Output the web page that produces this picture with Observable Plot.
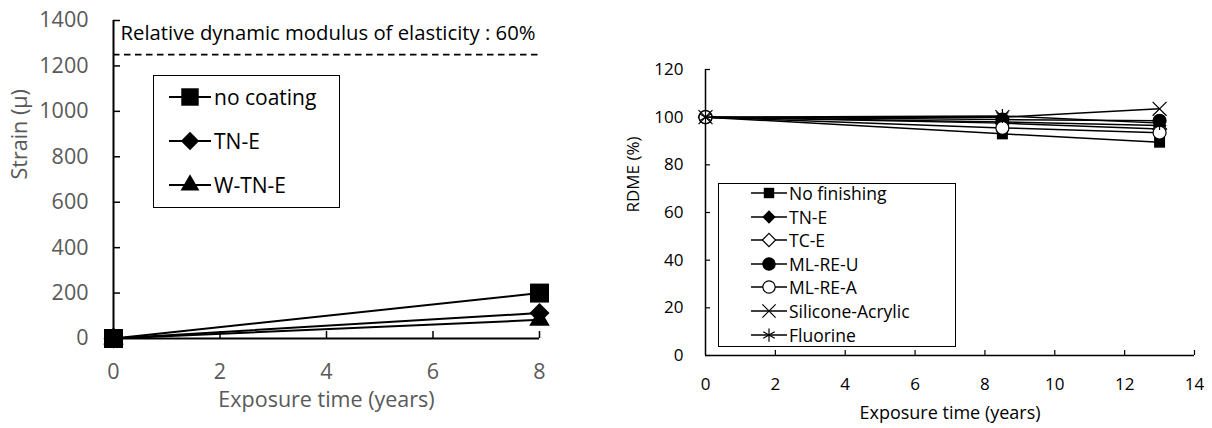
<!DOCTYPE html>
<html><head><meta charset="utf-8">
<script src="https://cdn.jsdelivr.net/npm/d3@7"></script>
<script src="https://cdn.jsdelivr.net/npm/@observablehq/plot@0.6"></script>
<style>
body{margin:0;background:#fff;}
#wrap{position:relative;width:1212px;height:428px;overflow:hidden;font-family:"Open Sans",Lato,sans-serif;}
.panel{position:absolute;top:0;}
.legend{position:absolute;border:1.5px solid #000;background:#fff;box-sizing:border-box;}
.item{position:absolute;display:flex;align-items:center;white-space:nowrap;color:#000;}
.item svg{display:block;overflow:visible;}
</style></head><body><div id="wrap"></div>
<script>
// ---------- Left chart data (strain) ----------
const strainYears = [0, 8];
const strainSeries = ["no coating", "TN-E", "W-TN-E"];
const strainNoCoating = [0, 200];
const strainTNE = [0, 112];
const strainWTNE = [0, 82];
const strainLimit = 1250;
const strainLimitLabel = "Relative dynamic modulus of elasticity : 60%";
const strainXTicks = [0, 2, 4, 6, 8];
const strainYTicks = [0, 200, 400, 600, 800, 1000, 1200, 1400];
const strainXTitle = "Exposure time (years)";
const strainYTitle = "Strain (μ)";

// ---------- Right chart data (RDME) ----------
const rdmeYears = [0, 8.5, 13];
const rdmeSeries = ["No finishing", "TN-E", "TC-E", "ML-RE-U", "ML-RE-A", "Silicone-Acrylic", "Fluorine"];
const rdmeNoFinishing = [100, 93, 89.5];
const rdmeTNE = [100, 98, 96.5];
const rdmeTCE = [100, 97.5, 95];
const rdmeMLREU = [100, 99, 98.5];
const rdmeMLREA = [100, 95.5, 93.5];
const rdmeSiliconeAcrylic = [100, 100, 103.5];
const rdmeFluorine = [100, 100.5, 97.5];
const rdmeXTicks = [0, 2, 4, 6, 8, 10, 12, 14];
const rdmeYTicks = [0, 20, 40, 60, 80, 100, 120];
const rdmeXTitle = "Exposure time (years)";
const rdmeYTitle = "RDME (%)";

// ---------- styles ----------
const FONT = '"Open Sans", Lato, sans-serif';
const GRAY = "#595959";
const fmt = d => String(d);
const symMap = {square: d3.symbolSquare, diamond2: d3.symbolDiamond2, triangle: d3.symbolTriangle,
  circle: d3.symbolCircle, times: d3.symbolTimes, asterisk: d3.symbolAsterisk};

const strainValues = [strainNoCoating, strainTNE, strainWTNE];
const strainStyle = [
  {symbol: "square", r: 10.7, fill: "#000", stroke: "none"},
  {symbol: "diamond2", r: 9, fill: "#000", stroke: "none"},
  {symbol: "triangle", r: 7.6, fill: "#000", stroke: "none"}
];
const rdmeValues = [rdmeNoFinishing, rdmeTNE, rdmeTCE, rdmeMLREU, rdmeMLREA, rdmeSiliconeAcrylic, rdmeFluorine];
const rdmeStyle = [
  {symbol: "square", r: 6.2, fill: "#000", stroke: "none"},
  {symbol: "diamond2", r: 6.3, fill: "#000", stroke: "none"},
  {symbol: "diamond2", r: 6.3, fill: "#fff", stroke: "#000"},
  {symbol: "circle", r: 6.5, fill: "#000", stroke: "#000"},
  {symbol: "circle", r: 6.5, fill: "#fff", stroke: "#000"},
  {symbol: "times", r: 6.4, fill: "none", stroke: "#000"},
  {symbol: "asterisk", r: 6.6, fill: "none", stroke: "#000"}
];

function seriesMarks(years, values, styles, names, lineWidth) {
  const marks = [];
  names.forEach((name, k) => {
    const rows = years.map((x, i) => ({series: name, x, y: values[k][i]}));
    marks.push(Plot.line(rows, {x: "x", y: "y", stroke: "#000", strokeWidth: lineWidth}));
    const s = styles[k];
    marks.push(Plot.dot(rows, {x: "x", y: "y", symbol: s.symbol, r: s.r, fill: s.fill,
      stroke: s.stroke, strokeWidth: 1.2}));
  });
  return marks;
}

// ---------- Left plot ----------
const left = Plot.plot({
  width: 600, height: 428,
  marginLeft: 113, marginRight: 61, marginTop: 20, marginBottom: 90,
  style: {fontFamily: FONT, fontSize: "21px", background: "#fff", overflow: "visible"},
  x: {domain: [0, 8], axis: null},
  y: {domain: [0, 1400], axis: null},
  marks: [
    Plot.ruleY([strainLimit], {stroke: "#000", strokeWidth: 1.8, strokeDasharray: "6.5,4.5"}),
    Plot.text([strainLimitLabel], {frameAnchor: "top-left", dx: 7, dy: 13, textAnchor: "start",
      lineAnchor: "middle", fontSize: 20.3, fill: "#000"}),
    Plot.ruleX([0], {stroke: "#000", strokeWidth: 2}),
    Plot.ruleY([0], {stroke: "#000", strokeWidth: 2}),
    Plot.ruleY(strainYTicks, {y: d => d, x1: () => 0, x2: () => 0, insetRight: -7, stroke: "#000", strokeWidth: 1.5}),
    Plot.ruleX(strainXTicks.filter(d => d > 0), {x: d => d, y1: () => 0, y2: () => 0, insetTop: -7, stroke: "#000", strokeWidth: 1.5}),
    Plot.axisY(strainYTicks, {tickSize: 0, tickPadding: 25, fontSize: 21.5, color: GRAY, label: null, tickFormat: fmt}),
    Plot.axisX(strainXTicks, {tickSize: 0, tickPadding: 25, fontSize: 21.5, color: GRAY, label: null, tickFormat: fmt}),
    Plot.text([strainXTitle], {frameAnchor: "bottom", dy: 62, lineAnchor: "middle", fontSize: 21.5, fill: GRAY}),
    Plot.text([strainYTitle], {frameAnchor: "left", dx: -93, rotate: -90, lineAnchor: "middle", fontSize: 21.5, fill: GRAY}),
    ...seriesMarks(strainYears, strainValues, strainStyle, strainSeries, 2)
  ]
});

// ---------- Right plot ----------
const right = Plot.plot({
  width: 612, height: 428,
  marginLeft: 105, marginRight: 18, marginTop: 69, marginBottom: 73,
  style: {fontFamily: FONT, fontSize: "17px", background: "transparent", overflow: "visible"},
  x: {domain: [0, 14], axis: null},
  y: {domain: [0, 120], axis: null},
  marks: [
    Plot.ruleX([0], {stroke: "#000", strokeWidth: 1.5}),
    Plot.ruleY([0], {stroke: "#000", strokeWidth: 1.5}),
    Plot.ruleY(rdmeYTicks, {y: d => d, x1: () => 0, x2: () => 0, insetRight: -5, stroke: "#000", strokeWidth: 1.2}),
    Plot.ruleX(rdmeXTicks.filter(d => d > 0), {x: d => d, y1: () => 0, y2: () => 0, insetTop: -5, stroke: "#000", strokeWidth: 1.2}),
    Plot.axisY(rdmeYTicks, {tickSize: 0, tickPadding: 22, fontSize: 17, color: "#000", label: null, tickFormat: fmt}),
    Plot.axisX(rdmeXTicks, {tickSize: 0, tickPadding: 22, fontSize: 17, color: "#000", label: null, tickFormat: fmt}),
    Plot.text([rdmeXTitle], {frameAnchor: "bottom", dy: 58, lineAnchor: "middle", fontSize: 18, fill: "#000"}),
    Plot.text([rdmeYTitle], {frameAnchor: "left", dx: -72, rotate: -90, lineAnchor: "middle", fontSize: 17, fill: "#000"}),
    ...seriesMarks(rdmeYears, rdmeValues, rdmeStyle, rdmeSeries, 1.5)
  ]
});

const wrap = document.getElementById("wrap");
left.classList.add("panel"); left.style.left = "0px";
right.classList.add("panel"); right.style.left = "600px";
wrap.appendChild(left);
wrap.appendChild(right);

// ---------- Legends (HTML overlays) ----------
function makeLegend(box, names, styles, scale, opts) {
  const div = document.createElement("div");
  div.className = "legend";
  Object.assign(div.style, {left: box.x + "px", top: box.y + "px", width: box.w + "px", height: box.h + "px"});
  names.forEach((name, k) => {
    const s = styles[k];
    const it = document.createElement("div");
    it.className = "item";
    it.style.left = opts.lineX + "px";
    it.style.top = (opts.firstY + k * opts.step - opts.rowH / 2) + "px";
    it.style.height = opts.rowH + "px";
    it.style.fontSize = opts.fontSize + "px";
    const size = Math.PI * (s.r * scale) ** 2;
    const path = d3.symbol(symMap[s.symbol], size)();
    const W = opts.lineW;
    it.innerHTML = `<svg width="${W}" height="${opts.rowH}"><line x1="0" x2="${W}" y1="${opts.rowH/2}" y2="${opts.rowH/2}" stroke="#000" stroke-width="${opts.lw}"/>` +
      `<path d="${path}" transform="translate(${W/2},${opts.rowH/2})" fill="${s.fill}" stroke="${s.stroke}" stroke-width="1.2"/></svg>` +
      `<span style="margin-left:${opts.gap}px">${name}</span>`;
    div.appendChild(it);
  });
  wrap.appendChild(div);
}
makeLegend({x: 153, y: 75, w: 187, h: 133}, strainSeries, strainStyle, 0.92,
  {lineX: 15, firstY: 21, step: 44, rowH: 30, fontSize: 21, lineW: 42, gap: 3, lw: 2});
makeLegend({x: 718, y: 183, w: 238, h: 164}, rdmeSeries, rdmeStyle, 0.95,
  {lineX: 32, firstY: 9, step: 23.6, rowH: 22, fontSize: 17.5, lineW: 36, gap: 2, lw: 1.5});
</script></body></html>
